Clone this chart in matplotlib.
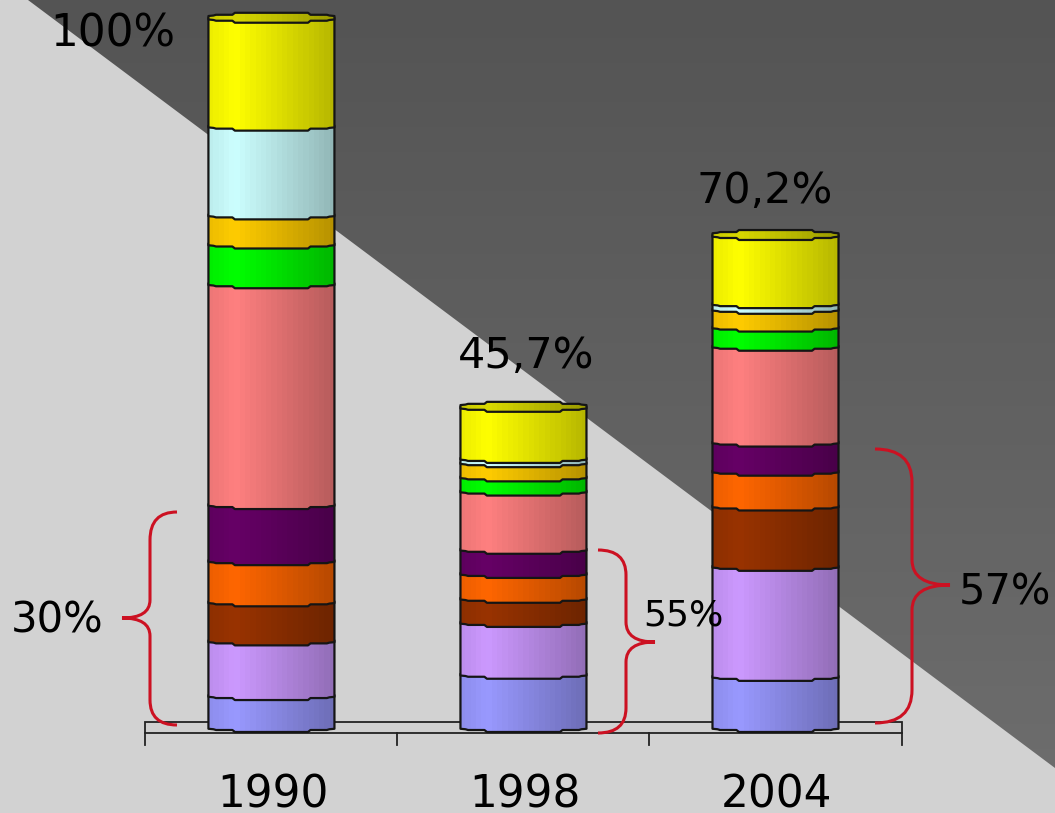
import numpy as np
import matplotlib
matplotlib.use('Agg')
import matplotlib.pyplot as plt
from matplotlib.colors import to_rgb
from matplotlib.patches import PathPatch, Polygon, Rectangle
from matplotlib.path import Path
from matplotlib.transforms import Affine2D

# Datos
years = ['1990', '1998', '2004']
totals = ['100%', '45,7%', '70,2%']
blue = [4.5, 7.5, 7.2]
lilac = [7.7, 7.3, 15.5]
brown = [5.5, 3.4, 8.5]
orange = [5.8, 3.5, 4.9]
purple = [7.9, 3.4, 4.1]
pink = [31.1, 8.2, 13.5]
green = [5.6, 2.0, 2.7]
gold = [4.1, 2.0, 2.5]
cyan = [12.5, 0.6, 0.8]
yellow = [15.2, 7.2, 9.6]

series = [blue, lilac, brown, orange, purple, pink, green, gold, cyan, yellow]
colors = ['#9999ff', '#cc99ff', '#993300', '#ff6600', '#660066',
          '#ff8080', '#00ff00', '#ffcc00', '#ccffff', '#ffff00']

W, H = 1055, 813
fig = plt.figure(figsize=(W / 100, H / 100), dpi=100)
ax = fig.add_axes([0, 0, 1, 1])
ax.axis('off')
xlim = (-1.077, 3.109)
ylim = (-12.11, 102.4)
bar_w = 0.5
# cuanto baja el arco del cilindro, en unidades de y
arc = 0.7

# coordenadas en pixeles de la imagen para fondo y llaves
px = Affine2D().scale(1 / W, -1 / H).translate(0, 1) + fig.transFigure

ax.add_patch(Rectangle((0, 0), W, H, transform=px, color='#d2d2d2', zorder=0))
tri = Polygon([(28, 0), (W, 768), (W, 0)], closed=True, transform=px,
              facecolor='none', edgecolor='none')
ax.add_patch(tri)
bg = np.linspace(0.33, 0.43, 64).reshape(-1, 1)
im = ax.imshow(np.dstack([bg, bg, bg]), extent=(*xlim, *ylim), aspect='auto',
               origin='upper', zorder=1)
im.set_clip_path(tri)

# suelo 3D y eje
ax.add_patch(Rectangle((145, 722), 757, 11, transform=px, facecolor='#d0d0d0',
                       edgecolor='#222222', lw=1.3, zorder=2))
for xt in [-0.5, 0.5, 1.5, 2.5]:
    ax.plot([xt, xt], [-0.85, -2.5], color='#222222', lw=1.3, zorder=2)

band_x = np.linspace(0, 1, 24)
band = np.interp(band_x, [0, 0.2, 1], [0.93, 1.0, 0.72])

# el arco del grafico original es facetado, con escalones
step_x = [0, 0.04, 0.06, 0.19, 0.21, 0.79, 0.81, 0.94, 0.96, 1]
step_d = [0.35, 0.45, 0.6, 0.6, 1, 1, 0.6, 0.6, 0.45, 0.35]


def lower_arc(x0, y):
    return [(x0 + bar_w * f, y - arc * d) for f, d in zip(step_x, step_d)]


def upper_arc(x0, y):
    return [(x0 + bar_w * f, y + arc * d) for f, d in zip(step_x, step_d)]


def shaded(patch, color, x0, y0, y1, z, factor=1.0):
    rgb = np.array(to_rgb(color))
    img = np.outer(band * factor, rgb).reshape(1, -1, 3)
    ax.add_patch(patch)
    i = ax.imshow(np.clip(img, 0, 1), extent=(x0, x0 + bar_w, y0, y1),
                  aspect='auto', interpolation='nearest', zorder=z)
    i.set_clip_path(patch)
    ax.add_patch(Polygon(patch.get_xy(), closed=True, facecolor='none',
                         edgecolor='#151515', lw=1.6, joinstyle='round', zorder=z + 0.1))


for i in range(len(years)):
    x0 = i - bar_w / 2
    base = 0.0
    z = 3
    for vals, col in zip(series, colors):
        top = base + vals[i]
        pts = [(x0, top), (x0 + bar_w, top)] + lower_arc(x0, base)[::-1]
        patch = Polygon(pts, closed=True, facecolor='none', edgecolor='none', zorder=z)
        shaded(patch, col, x0, base - arc, top, z)
        base = top
        z += 1
    # tapa superior
    cap = upper_arc(x0, base) + lower_arc(x0, base)[::-1]
    patch = Polygon(cap, closed=True, facecolor='none', edgecolor='none', zorder=z)
    shaded(patch, colors[-1], x0, base - arc, base + arc, z, factor=0.85)

# llaves rojas
braces = [
    [(177, 512), (150, 512), (150, 540), (150, 600), (150, 618), (122, 618),
     (150, 618), (150, 636), (150, 700), (150, 725), (177, 725)],
    [(598, 550), (626, 550), (626, 575), (626, 622), (626, 642), (655, 642),
     (626, 642), (626, 662), (626, 708), (626, 733), (598, 733)],
    [(875, 449), (912, 449), (912, 482), (912, 560), (912, 585), (950, 585),
     (912, 585), (912, 610), (912, 690), (912, 723), (875, 723)],
]
for b in braces:
    # un tramo de curva, recta, curva ... de forma alterna
    codes = [Path.MOVETO, Path.CURVE3, Path.CURVE3, Path.LINETO, Path.CURVE3, Path.CURVE3,
             Path.CURVE3, Path.CURVE3, Path.LINETO, Path.CURVE3, Path.CURVE3]
    ax.add_patch(PathPatch(Path(b, codes), transform=px, facecolor='none',
                           edgecolor='#cc1122', lw=2.2, zorder=20))

# textos
for i, y in enumerate(years):
    ax.text(i + 0.005, -9.6, y, fontsize=31.5, ha='center', va='center', color='black', zorder=21)

ax.text(113, 34, totals[0], transform=px, fontsize=31.5, ha='center', va='center', color='black', zorder=21)
ax.text(526, 356, totals[1], transform=px, fontsize=31, ha='center', va='center', color='black', zorder=21)
ax.text(765, 191, totals[2], transform=px, fontsize=31, ha='center', va='center', color='black', zorder=21)

ax.text(57, 620, '30%', transform=px, fontsize=30, ha='center', va='center', color='black', zorder=21)
ax.text(683, 615, '55%', transform=px, fontsize=26, ha='center', va='center', color='black', zorder=21)
ax.text(1005, 592, '57%', transform=px, fontsize=30, ha='center', va='center', color='black', zorder=21)

ax.set_xlim(*xlim)
ax.set_ylim(*ylim)
fig.savefig('out.png', dpi=100)
